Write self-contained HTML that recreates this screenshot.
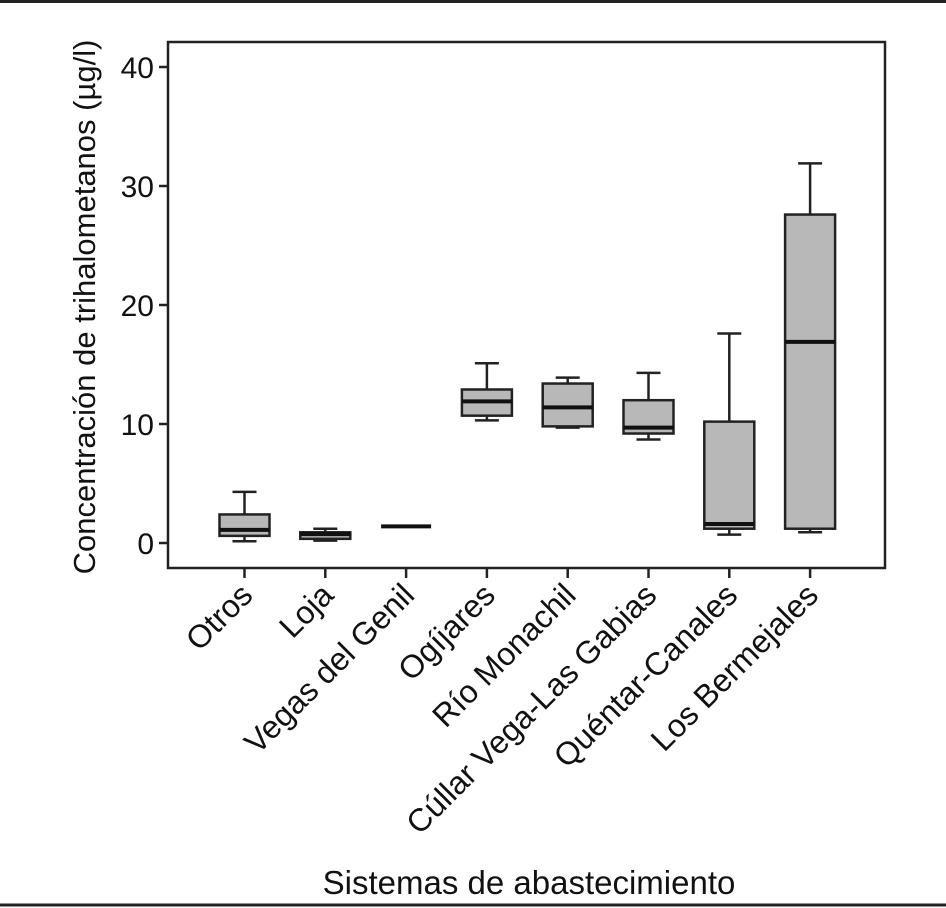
<!DOCTYPE html>
<html><head><meta charset="utf-8"><style>
html,body{margin:0;padding:0;background:#fff;}
svg{display:block;font-family:"Liberation Sans",Arial,sans-serif;}
</style></head><body>
<svg id="chart" width="946" height="908" xmlns="http://www.w3.org/2000/svg">
<line x1="0" y1="1.5" x2="946" y2="1.5" stroke="#222" stroke-width="3"/>
<line x1="0" y1="905" x2="946" y2="905" stroke="#222" stroke-width="3"/>
<rect x="168" y="42" width="717" height="526" fill="none" stroke="#222" stroke-width="2.5"/>
<g id="yaxis"></g>
<g id="xaxis"></g>
<g id="boxes"></g>
<text x="95" y="307" font-size="31" text-anchor="middle" transform="rotate(-90 95 307)" fill="#111">Concentración de trihalometanos (µg/l)</text>
<text x="529" y="894" font-size="33" text-anchor="middle" fill="#111">Sistemas de abastecimiento</text>
</svg>
<script>
const categories=["Otros","Loja","Vegas del Genil","Ogíjares","Río Monachil","Cúllar Vega-Las Gabias","Quéntar-Canales","Los Bermejales"];
const mins=[0.15,0.2,1.4,10.3,9.7,8.7,0.7,0.9];
const q1s=[0.6,0.35,1.4,10.7,9.8,9.2,1.2,1.2];
const medians=[1.1,0.75,1.4,11.9,11.4,9.7,1.6,16.9];
const q3s=[2.4,0.9,1.4,12.9,13.4,12.0,10.2,27.6];
const maxs=[4.3,1.2,1.4,15.1,13.9,14.3,17.6,31.9];
const yTicks=[0,10,20,30,40];
const NS="http://www.w3.org/2000/svg";
function y(v){return 543-v*11.9;}
function x(i){return 244.5+i*80.8;}
function mk(tag,attrs,parent){const e=document.createElementNS(NS,tag);for(const k in attrs)e.setAttribute(k,attrs[k]);parent.appendChild(e);return e;}
const ya=document.getElementById('yaxis'),xa=document.getElementById('xaxis'),bx=document.getElementById('boxes');
yTicks.forEach(t=>{
 const l=mk('line',{x1:159,x2:168,y1:y(t),y2:y(t),stroke:'#222','stroke-width':2.5},ya);
 
 
 const tx=mk('text',{x:154,y:y(t)+11,'font-size':30,'text-anchor':'end',fill:'#111'},ya);
 tx.textContent=t;
 
 
});
categories.forEach((c,i)=>{
 const cx=x(i);
 const l=mk('line',{x1:cx,x2:cx,y1:568,y2:578,stroke:'#222','stroke-width':2.5},xa);
 
 
 const tx=mk('text',{x:cx+10,y:597,'font-size':32,'text-anchor':'end',fill:'#111',transform:`rotate(-45 ${cx+10} 597)`},xa);
 tx.textContent=c;
 
 
 const g=mk('g',{},bx);
 
 
 const hw=25,cw=12;
 mk('line',{x1:cx,x2:cx,y1:y(maxs[i]),y2:y(q3s[i]),stroke:'#222','stroke-width':2.5},g);
 mk('line',{x1:cx,x2:cx,y1:y(mins[i]),y2:y(q1s[i]),stroke:'#222','stroke-width':2.5},g);
 mk('line',{x1:cx-cw,x2:cx+cw,y1:y(maxs[i]),y2:y(maxs[i]),stroke:'#222','stroke-width':2.5},g);
 mk('line',{x1:cx-cw,x2:cx+cw,y1:y(mins[i]),y2:y(mins[i]),stroke:'#222','stroke-width':2.5},g);
 const h=Math.max(0,y(q1s[i])-y(q3s[i]));
 if(h>0) mk('rect',{x:cx-hw,y:y(q3s[i]),width:hw*2,height:h,fill:'#b8b8b8',stroke:'#222','stroke-width':2.5},g);
 mk('line',{x1:cx-hw,x2:cx+hw,y1:y(medians[i]),y2:y(medians[i]),stroke:'#111','stroke-width':4},g);
});
</script>
</body></html>
